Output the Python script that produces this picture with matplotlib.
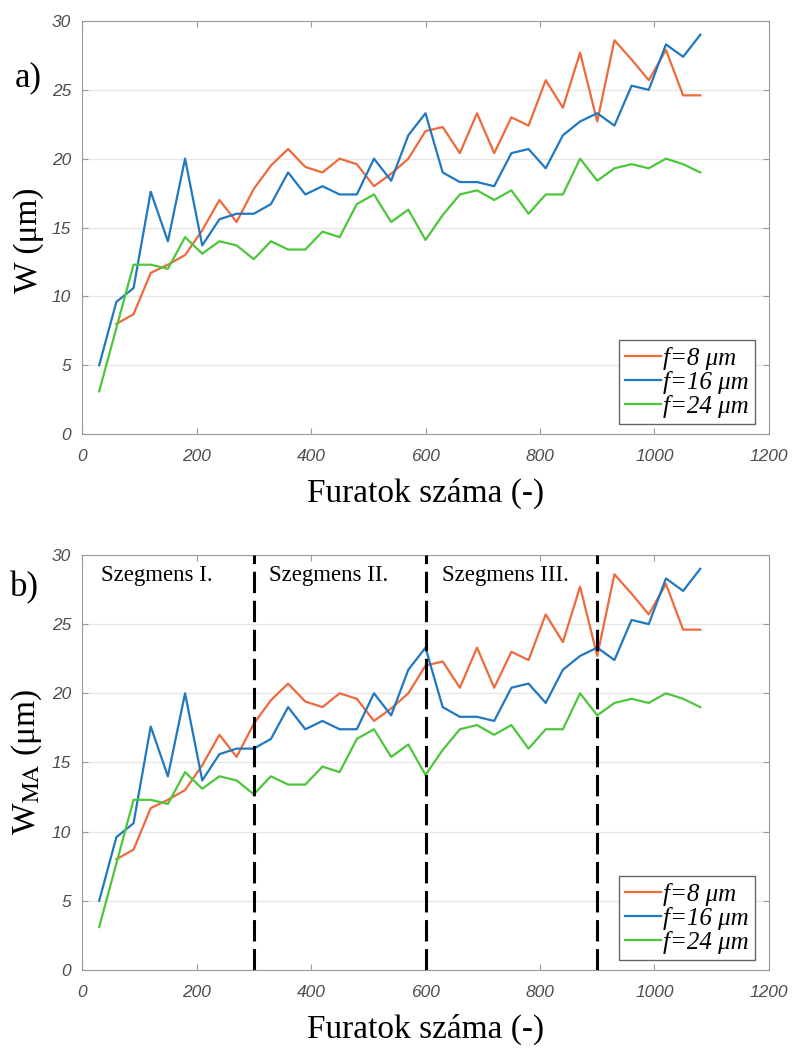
import numpy as np
import matplotlib.pyplot as plt

# number of drilled holes
holes = np.arange(30, 1081, 30)

# wear width W (um) for each feed
w_f8 = [np.nan, 8.0, 8.7, 11.7, 12.3, 13.0, 14.8, 17.0, 15.4, 17.8,
        19.5, 20.7, 19.4, 19.0, 20.0, 19.6, 18.0, 18.9, 20.0, 22.0,
        22.3, 20.4, 23.3, 20.4, 23.0, 22.4, 25.7, 23.7, 27.7, 22.7,
        28.6, 27.2, 25.7, 27.9, 24.6, 24.6]
w_f16 = [5.0, 9.6, 10.6, 17.6, 14.0, 20.0, 13.7, 15.6, 16.0, 16.0,
         16.7, 19.0, 17.4, 18.0, 17.4, 17.4, 20.0, 18.4, 21.7, 23.3,
         19.0, 18.3, 18.3, 18.0, 20.4, 20.7, 19.3, 21.7, 22.7, 23.3,
         22.4, 25.3, 25.0, 28.3, 27.4, 29.0]
w_f24 = [3.1, 7.7, 12.3, 12.3, 12.0, 14.3, 13.1, 14.0, 13.7, 12.7,
         14.0, 13.4, 13.4, 14.7, 14.3, 16.7, 17.4, 15.4, 16.3, 14.1,
         15.9, 17.4, 17.7, 17.0, 17.7, 16.0, 17.4, 17.4, 20.0, 18.4,
         19.3, 19.6, 19.3, 20.0, 19.6, 19.0]

series_labels = ['f=8 μm', 'f=16 μm', 'f=24 μm']
colors = ['#EE6A3C', '#1F78C1', '#4CC63A']

segment_edges = [300, 600, 900]
segment_names = ['Szegmens I.', 'Szegmens II.', 'Szegmens III.']
segment_text_x = [34, 327, 628]

plt.rcParams['mathtext.fontset'] = 'stix'
serif = 'Liberation Serif'
tick_font = {'family': 'Liberation Sans', 'style': 'italic', 'size': 12.5}

fig = plt.figure(figsize=(7.94, 10.55), dpi=100)
ax_a = fig.add_axes([0.1033, 0.5886, 0.8652, 0.3915])
ax_b = fig.add_axes([0.1033, 0.0806, 0.8652, 0.3934])


def draw_panel(ax, ylabel, ylabel_y):
    for vals, lab, c in zip([w_f8, w_f16, w_f24], series_labels, colors):
        ax.plot(holes, vals, color=c, lw=1.6, label=lab)
    ax.set_xlim(0, 1200)
    ax.set_ylim(0, 30)
    ax.set_xticks(range(0, 1201, 200))
    ax.set_yticks(range(0, 31, 5))
    ax.grid(axis='y', color='#e6e6e6', lw=1)
    ax.set_axisbelow(True)
    for s in ax.spines.values():
        s.set_color('#9a9a9a')
    ax.tick_params(direction='in', top=True, right=True, color='#9a9a9a',
                   length=4, labelcolor='#4d4d4d', pad=8)
    ax.tick_params(axis='x', pad=11)
    for t in ax.get_xticklabels() + ax.get_yticklabels():
        t.set_fontfamily(tick_font['family'])
        t.set_fontstyle(tick_font['style'])
        t.set_fontsize(tick_font['size'])
    ax.set_xlabel('Furatok száma (-)', family=serif, fontsize=24, labelpad=10)
    ax.set_ylabel(ylabel, family=serif, fontsize=24)
    ax.yaxis.set_label_coords(-0.055, ylabel_y)
    leg = ax.legend(loc='lower right', bbox_to_anchor=(0.99, 0.005),
                    prop={'family': serif, 'style': 'italic', 'size': 18},
                    handlelength=1.45, handletextpad=0.05, labelspacing=0.05,
                    borderpad=0.25, borderaxespad=0.3, fancybox=False,
                    framealpha=1)
    leg.get_frame().set_edgecolor('#666666')
    leg.get_frame().set_linewidth(1.0)


draw_panel(ax_a, 'W (μm)', 0.47)
draw_panel(ax_b, r'W$_{\mathrm{MA}}$ (μm)', 0.5)

for xe in segment_edges:
    ax_b.axvline(xe, color='black', lw=2.2, dashes=(7, 2.5), zorder=3)
for xt, name in zip(segment_text_x, segment_names):
    ax_b.text(xt, 28.1, name, family=serif, fontsize=16.5, va='baseline')

fig.text(0.019, 0.918, 'a)', family=serif, fontsize=25)
fig.text(0.013, 0.435, 'b)', family=serif, fontsize=25)

fig.savefig('out.png', dpi=100)
